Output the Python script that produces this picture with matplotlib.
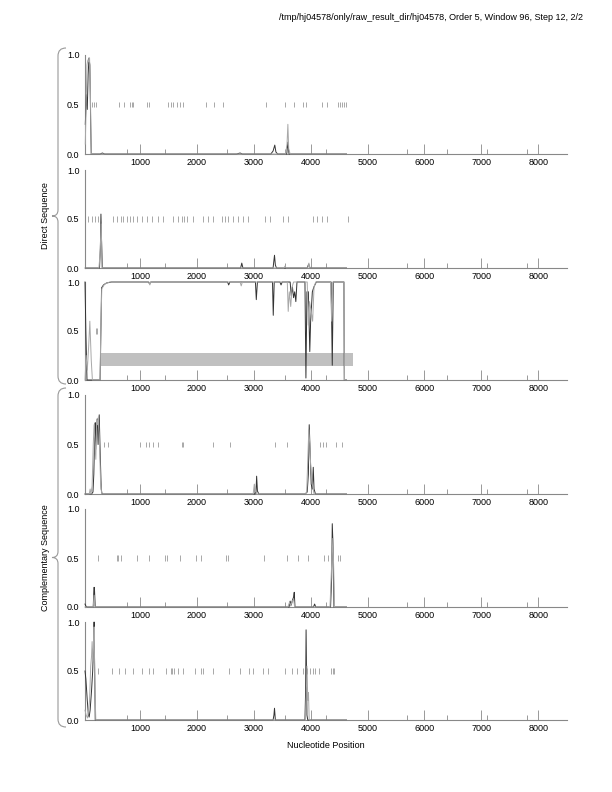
import matplotlib
matplotlib.use("Agg")
import matplotlib.pyplot as plt
from matplotlib.path import Path
from matplotlib.patches import PathPatch

plt.rcParams['font.family'] = ['Liberation Sans', 'DejaVu Sans']
fontsize = 6.5

title = "/tmp/hj04578/only/raw_result_dir/hj04578, Order 5, Window 96, Step 12, 2/2"
xlabel = "Nucleotide Position"
group_labels = ["Direct Sequence", "Complementary Sequence"]

x_major = [1000, 2000, 3000, 4000, 5000, 6000, 7000, 8000]
x_minor = [766, 1440, 2525, 3548, 4264, 5687, 6390, 7093, 7796]
y_ticks = [0.0, 0.5, 1.0]
y_ticklabels = ["0.0", "0.5", "1.0"]

# panel 1 (direct, frame 1)
p1_black_x = [40, 60, 75, 90, 105, 120, 135, 145, 300, 340, 380, 2700, 2760, 2800, 3300, 3340, 3370, 3390, 3420, 3580, 3600, 3620, 4630]
p1_black_y = [0.3, 0.6, 0.45, 0.8, 0.97, 0.9, 0.3, 0.0, 0.0, 0.01, 0.0, 0.0, 0.01, 0.0, 0.0, 0.03, 0.09, 0.02, 0.0, 0.0, 0.12, 0.0, 0.0]
p1_gray_x = [40, 55, 70, 85, 100, 115, 130, 145, 3560, 3585, 3600, 3615, 3640, 4630]
p1_gray_y = [0.1, 0.5, 0.9, 0.95, 0.93, 0.97, 0.6, 0.0, 0.0, 0.1, 0.3, 0.05, 0.0, 0.0]
p1_stops = [162, 197, 232, 636, 724, 824, 854, 882, 1117, 1158, 1497, 1540, 1585, 1645, 1703, 1750,
            2160, 2306, 2453, 3209, 3548, 3706, 3859, 3917, 4192, 4281, 4486, 4515, 4556, 4591, 4620]

# panel 2 (direct, frame 2)
p2_black_x = [40, 290, 305, 315, 325, 340, 2770, 2790, 2810, 3340, 3365, 3380, 3400, 3940, 3965, 3990, 4630]
p2_black_y = [0.0, 0.0, 0.2, 0.55, 0.3, 0.0, 0.0, 0.05, 0.0, 0.0, 0.13, 0.03, 0.0, 0.0, 0.04, 0.0, 0.0]
p2_gray_x = [40, 280, 300, 320, 335, 3530, 3550, 3570, 3950, 3970, 3985, 4630]
p2_gray_y = [0.0, 0.0, 0.15, 0.45, 0.0, 0.0, 0.02, 0.0, 0.0, 0.05, 0.0, 0.0]
p2_stops = [92, 150, 209, 267, 531, 601, 660, 706, 765, 824, 882, 941, 1029, 1117, 1205, 1322, 1399,
            1585, 1673, 1732, 1773, 1820, 1926, 2113, 2201, 2289, 2435, 2494, 2553, 2640, 2728, 2816,
            2904, 3197, 3285, 3519, 3606, 4046, 4116, 4193, 4290, 4650]

# panel 3 (direct, frame 3)
p3_black_x = [35, 50, 70, 300, 309, 326, 360, 414, 502, 1150, 1170, 1190, 2540, 2560, 2580, 3030, 3045, 3065,
              3330, 3343, 3360, 3460, 3480, 3500, 3640, 3660, 3680, 3700, 3720, 3740, 3760, 3900, 3917,
              3935, 3960, 3985, 4000, 4030, 4058, 4100, 4360, 4380, 4398, 4585, 4591, 4630]
p3_black_y = [1.0, 0.5, 0.0, 0.0, 0.3, 0.94, 0.97, 0.99, 1.0, 1.0, 0.98, 1.0, 1.0, 0.97, 1.0, 1.0, 0.82, 1.0,
              1.0, 0.66, 1.0, 1.0, 0.97, 1.0, 1.0, 0.86, 0.95, 0.84, 0.9, 0.8, 1.0, 1.0, 0.02,
              0.9, 0.9, 0.29, 0.6, 0.9, 0.95, 1.0, 1.0, 0.15, 1.0, 1.0, 0.0, 0.0]
p3_gray_x = [35, 55, 75, 100, 120, 145, 165, 300, 312, 330, 380, 470, 1160, 1175, 1190, 2760, 2780, 2800,
             3590, 3606, 3625, 3650, 3675, 3700, 3940, 3958, 3980, 4010, 4035, 4060, 4090, 4350, 4369,
             4390, 4585, 4595, 4630]
p3_gray_y = [0.0, 0.25, 0.1, 0.35, 0.6, 0.2, 0.0, 0.0, 0.5, 0.93, 0.98, 1.0, 1.0, 0.97, 1.0, 1.0, 0.96, 1.0,
             1.0, 0.7, 0.9, 0.75, 0.95, 1.0, 1.0, 0.56, 0.8, 0.7, 0.6, 0.95, 1.0, 1.0, 0.6,
             1.0, 1.0, 0.0, 0.0]
p3_stops = [225, 240]
p3_orf_start = 309
p3_orf_end = 4741
p3_orf_low = 0.14
p3_orf_high = 0.28

# panel 4 (complementary, frame 1)
p4_black_x = [35, 150, 175, 190, 205, 215, 222, 235, 250, 265, 285, 300, 320, 335, 3020, 3040, 3051, 3065, 3090,
              3900, 3940, 3960, 3975, 3990, 4010, 4030, 4046, 4060, 4085, 4630]
p4_black_y = [0, 0, 0.02, 0.2, 0.6, 0.72, 0.45, 0.65, 0.76, 0.5, 0.8, 0.45, 0.05, 0, 0, 0.02, 0.18, 0.03, 0,
              0, 0.02, 0.2, 0.7, 0.45, 0.1, 0.05, 0.27, 0.05, 0, 0]
p4_gray_x = [35, 110, 125, 140, 160, 180, 195, 210, 225, 240, 255, 270, 290, 310, 330, 2990, 3010, 3030, 3050,
             3900, 3930, 3950, 3968, 3985, 4000, 4030, 4060, 4630]
p4_gray_y = [0, 0, 0.05, 0, 0.08, 0.5, 0.7, 0.5, 0.35, 0.75, 0.7, 0.78, 0.5, 0.1, 0, 0, 0.1, 0.05, 0,
             0, 0.01, 0.35, 0.65, 0.5, 0.3, 0.1, 0, 0]
p4_stops = [367, 443, 1000, 1105, 1164, 1223, 1322, 1732, 1761, 2289, 2582, 3373, 3578,
            4163, 4211, 4269, 4445, 4545]

# panel 5 (complementary, frame 2)
p5_black_x = [35, 50, 70, 180, 192, 200, 215, 3620, 3640, 3660, 3680, 3700, 3712, 3725, 4050, 4070, 4090,
              4350, 4370, 4380, 4395, 4410, 4630]
p5_black_y = [0.03, 0.01, 0, 0, 0.2, 0.2, 0, 0, 0.06, 0.02, 0.07, 0.1, 0.15, 0, 0, 0.03, 0,
              0, 0.3, 0.85, 0.6, 0, 0]
p5_gray_x = [35, 180, 195, 210, 3600, 3630, 3650, 3670, 3700, 3720, 4340, 4360, 4375, 4390, 4405, 4420, 4630]
p5_gray_y = [0, 0, 0.12, 0, 0, 0.05, 0.01, 0.05, 0.08, 0, 0, 0.3, 0.5, 0.7, 0.4, 0, 0]
p5_stops = [267, 590, 619, 661, 953, 1164, 1440, 1469, 1703, 1979, 2072, 2511, 2541, 3185, 3578, 3771,
            3958, 4240, 4310, 4486, 4515]

# panel 6 (complementary, frame 3)
p6_black_x = [35, 50, 75, 95, 108, 125, 150, 170, 185, 195, 205, 215, 3340, 3355, 3365, 3380,
              3900, 3912, 3920, 3935, 3950, 4630]
p6_black_y = [0.5, 0.42, 0.2, 0.05, 0.03, 0.1, 0.3, 0.5, 0.75, 1.0, 0.5, 0, 0, 0.05, 0.12, 0,
              0, 0.3, 0.92, 0.05, 0, 0]
p6_gray_x = [35, 55, 80, 100, 115, 135, 150, 160, 175, 185, 195, 210, 225, 3910, 3925, 3935, 3950, 3962, 3975, 4630]
p6_gray_y = [0.1, 0.05, 0.02, 0.1, 0.2, 0.55, 0.65, 0.8, 0.6, 0.75, 0.95, 0.3, 0, 0, 0.3, 0.55, 0.2, 0.28, 0, 0]
p6_stops = [257, 503, 636, 736, 872, 1030, 1158, 1234, 1457, 1540, 1568, 1603, 1663, 1751, 1967, 2068,
            2103, 2289, 2565, 2757, 2916, 2981, 3156, 3244, 3548, 3666, 3754, 3859, 3930, 3988, 4035,
            4076, 4146, 4357, 4387, 4415]

panels = [
    (p1_black_x, p1_black_y, p1_gray_x, p1_gray_y, p1_stops),
    (p2_black_x, p2_black_y, p2_gray_x, p2_gray_y, p2_stops),
    (p3_black_x, p3_black_y, p3_gray_x, p3_gray_y, p3_stops),
    (p4_black_x, p4_black_y, p4_gray_x, p4_gray_y, p4_stops),
    (p5_black_x, p5_black_y, p5_gray_x, p5_gray_y, p5_stops),
    (p6_black_x, p6_black_y, p6_gray_x, p6_gray_y, p6_stops),
]

W, H = 612, 792
fig = plt.figure(figsize=(W / 100, H / 100), dpi=100)

# pixel rows of the 1.0 and 0.0 lines of each panel
tops = [55, 170, 282, 395, 509, 622]
bottoms = [154, 268, 380, 494, 607, 720]
left_px, right_px = 85, 567

spine_color = '#888888'
for i, (bx, by, gx, gy, stops) in enumerate(panels):
    ax = fig.add_axes([left_px / W, 1 - bottoms[i] / H, (right_px - left_px) / W, (bottoms[i] - tops[i]) / H])
    if i == 2:
        ax.fill_between([p3_orf_start, p3_orf_end], p3_orf_low, p3_orf_high, color='#c0c0c0', linewidth=0, zorder=1)
    ax.vlines(stops, 0.47, 0.53, color='#9a9a9a', linewidth=0.6, zorder=2)
    ax.plot(bx, by, color='#333333', linewidth=0.7, zorder=3, clip_on=False)
    ax.plot(gx, gy, color='#a8a8a8', linewidth=0.7, zorder=4, clip_on=False)
    ax.set_xlim(35, 8505)
    ax.set_ylim(0, 1.0)
    ax.set_xticks(x_major)
    ax.set_xticks(x_minor, minor=True)
    ax.set_xticklabels([str(v) for v in x_major], fontsize=fontsize)
    ax.set_yticks(y_ticks)
    ax.set_yticklabels(y_ticklabels, fontsize=fontsize)
    ax.set_yticks([1.0], minor=True)
    ax.tick_params(axis='x', which='major', direction='in', length=7, width=0.7, color='#999999', pad=3)
    ax.tick_params(axis='x', which='minor', direction='in', length=3.5, width=0.7, color='#999999')
    ax.tick_params(axis='y', which='major', length=0, pad=4)
    ax.tick_params(axis='y', which='minor', direction='in', length=3, width=0.7, color='#999999')
    for s in ['top', 'right']:
        ax.spines[s].set_visible(False)
    for s in ['left', 'bottom']:
        ax.spines[s].set_color(spine_color)
        ax.spines[s].set_linewidth(0.8)
    ax.patch.set_alpha(0)


def brace(top, bottom, label):
    mid = (top + bottom) / 2
    xl, xt, xe = 58, 52, 66
    pts = [(xe, top), (xl, top), (xl, top + 8), (xl, mid - 6), (xl, mid), (xt, mid),
           (xl, mid), (xl, mid + 6), (xl, bottom - 8), (xl, bottom), (xe, bottom)]
    codes = [Path.MOVETO, Path.CURVE3, Path.CURVE3, Path.LINETO, Path.CURVE3, Path.CURVE3,
             Path.CURVE3, Path.CURVE3, Path.LINETO, Path.CURVE3, Path.CURVE3]
    verts = [(x / W, 1 - y / H) for x, y in pts]
    fig.patches.append(PathPatch(Path(verts, codes), fill=False, edgecolor='#999999',
                                 linewidth=0.8, transform=fig.transFigure))
    fig.text(45 / W, 1 - mid / H, label, rotation=90, ha='center', va='center', fontsize=fontsize)


brace(48, 384, group_labels[0])
brace(388, 727, group_labels[1])

fig.text(583 / W, 1 - 18 / H, title, ha='right', va='center', fontsize=fontsize)
fig.text((left_px + right_px) / 2 / W, 1 - 746 / H, xlabel, ha='center', va='center', fontsize=fontsize)

fig.savefig('out.png', dpi=100)
